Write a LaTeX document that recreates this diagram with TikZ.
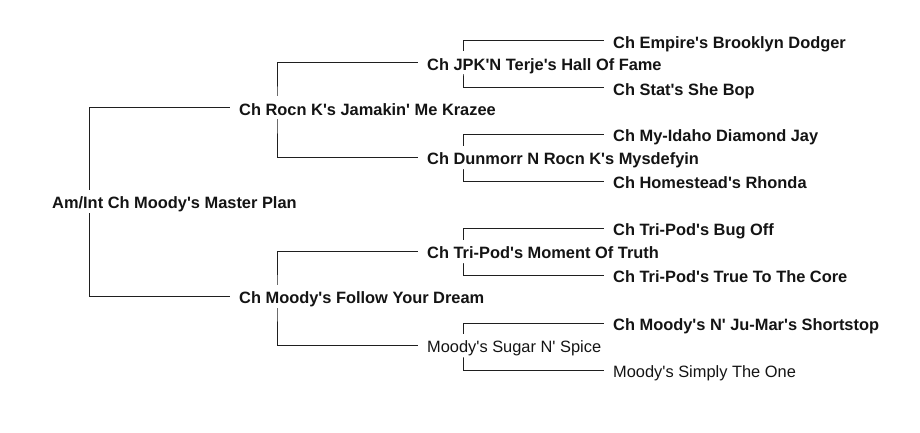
\documentclass[tikz,border=0pt]{standalone}
\usepackage{fontspec}
\newfontfamily\arialfont{Liberation Sans}
\usetikzlibrary{backgrounds}
\begin{document}
\begin{tikzpicture}[x=1pt,y=-1pt,
  dog/.style={anchor=west, fill=white, inner xsep=9.5pt, inner ysep=0pt,
    text height=14.5pt, text depth=0pt, minimum height=23pt,
    font=\arialfont\fontsize{16.4}{18}\selectfont\bfseries, text=black!92},
  plaindog/.style={dog, font=\arialfont\fontsize{16.4}{18}\selectfont},
  link/.style={draw=black!88, line width=1pt}]
\useasboundingbox (0,0) rectangle (920,433);
% generation 1
\node[dog] (root) at (42.5,201.5) {Am/Int Ch Moody's Master Plan};
% generation 2
\node[dog] (rocn) at (229.5,108) {Ch Rocn K's Jamakin' Me Krazee};
\node[dog] (follow) at (229.5,296) {Ch Moody's Follow Your Dream};
% generation 3
\node[dog] (jpk) at (417.5,63) {Ch JPK'N Terje's Hall Of Fame};
\node[dog] (dun) at (417.5,157) {Ch Dunmorr N Rocn K's Mysdefyin};
\node[dog] (moment) at (417.5,251.5) {Ch Tri-Pod's Moment Of Truth};
\node[plaindog] (sugar) at (417.5,345) {Moody's Sugar N' Spice};
% generation 4
\node[dog] (emp) at (603.5,41) {Ch Empire's Brooklyn Dodger};
\node[dog] (stat) at (603.5,88) {Ch Stat's She Bop};
\node[dog] (idaho) at (603.5,134.3) {Ch My-Idaho Diamond Jay};
\node[dog] (home) at (603.5,181.7) {Ch Homestead's Rhonda};
\node[dog] (bug) at (603.5,228.3) {Ch Tri-Pod's Bug Off};
\node[dog] (core) at (603.5,275) {Ch Tri-Pod's True To The Core};
\node[dog] (short) at (603.5,323.3) {Ch Moody's N' Ju-Mar's Shortstop};
\node[plaindog] (simply) at (603.5,370) {Moody's Simply The One};
% junctions
\coordinate (j0) at (89.5,203);
\coordinate (j1) at (277,110);
\coordinate (j2) at (277,298);
\coordinate (j3) at (463,64);
\coordinate (j4) at (463,158);
\coordinate (j5) at (463,252);
\coordinate (j6) at (463,346);
\begin{scope}[on background layer]
\fill[white] (0,0) rectangle (920,433);
\draw[link] (rocn.west) -| (j0) |- (follow.west);
\draw[link] (jpk.west) -| (j1) |- (dun.west);
\draw[link] (moment.west) -| (j2) |- (sugar.west);
\draw[link] (emp.west) -| (j3) |- (stat.west);
\draw[link] (idaho.west) -| (j4) |- (home.west);
\draw[link] (bug.west) -| (j5) |- (core.west);
\draw[link] (short.west) -| (j6) |- (simply.west);
\end{scope}
\end{tikzpicture}
\end{document}
